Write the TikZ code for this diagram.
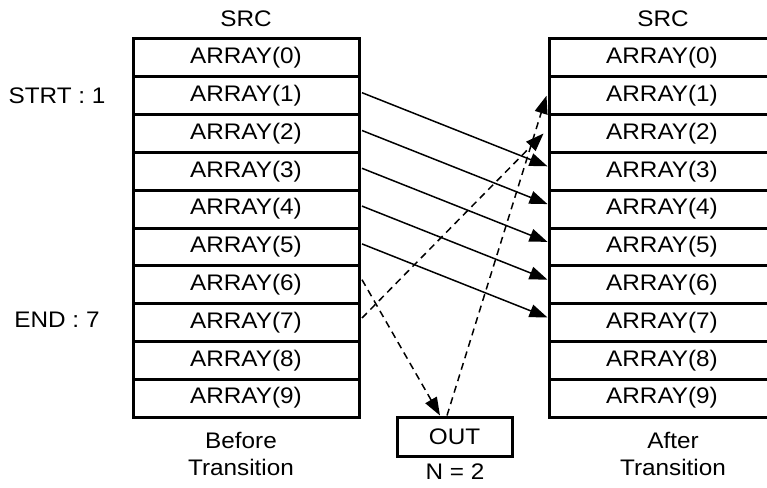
\documentclass[tikz,border=0pt]{standalone}
\usepackage{fontspec}
\setmainfont{Liberation Sans}[FakeStretch=1.08]
\usetikzlibrary{arrows.meta}
\begin{document}
\begin{tikzpicture}[x=1pt,y=-1pt,
  txt/.style={font=\fontsize{22.5}{27}\selectfont, inner sep=0pt},
  cell/.style={txt, draw, line width=3pt, minimum width=226pt, minimum height=37.8pt},
  outbox/.style={txt, draw, line width=3pt, minimum width=115pt, minimum height=39pt},
  tip/.style={-{Triangle[length=18pt,width=13pt]}},
  mv/.style={line width=1.5pt, tip},
  dmv/.style={line width=1.5pt, dash pattern=on 7pt off 5pt, tip}
]
\clip (0,0) rectangle (767,487);
\fill[white] (0,0) rectangle (767,487);
% titles
\node[txt] (srcL) at (246,19) {SRC};
\node[txt] (srcR) at (663,19) {SRC};
% arrays
\foreach \i in {0,...,9}{
  \node[cell] (L\i) at (246,{39+37.8*(\i+0.5)}) {ARRAY(\i)};
  \node[cell] (R\i) at (662,{39+37.8*(\i+0.5)}) {ARRAY(\i)};
}
% side labels
\node[txt] (strt) at (57,96) {STRT : 1};
\node[txt] (endl) at (57,320) {END : 7};
% bottom labels
\node[txt, align=center] (before) at (241,454) {Before\\Transition};
\node[txt, align=center] (after) at (673,454) {After\\Transition};
\node[outbox] (out) at (454.5,436.5) {OUT};
\node[txt] (n) at (455,472) {N = 2};
% solid moves
\foreach \a/\b in {1/3,2/4,3/5,4/6,5/7}{
  \draw[mv] ([xshift=1.5pt,yshift=3pt]L\a.east) -- ([yshift=5pt]R\b.west);
}
% dashed moves
\draw[dmv] ([xshift=1.5pt,yshift=5pt]L6.east) -- ([xshift=-14.5pt]out.north);
\draw[dmv] ([xshift=-7.5pt]out.north) -- ([xshift=-1pt]R1.west);
\draw[dmv] ([xshift=1.5pt,yshift=4.5pt]L7.east) -- ([xshift=-4pt]R2.west);
\end{tikzpicture}
\end{document}
